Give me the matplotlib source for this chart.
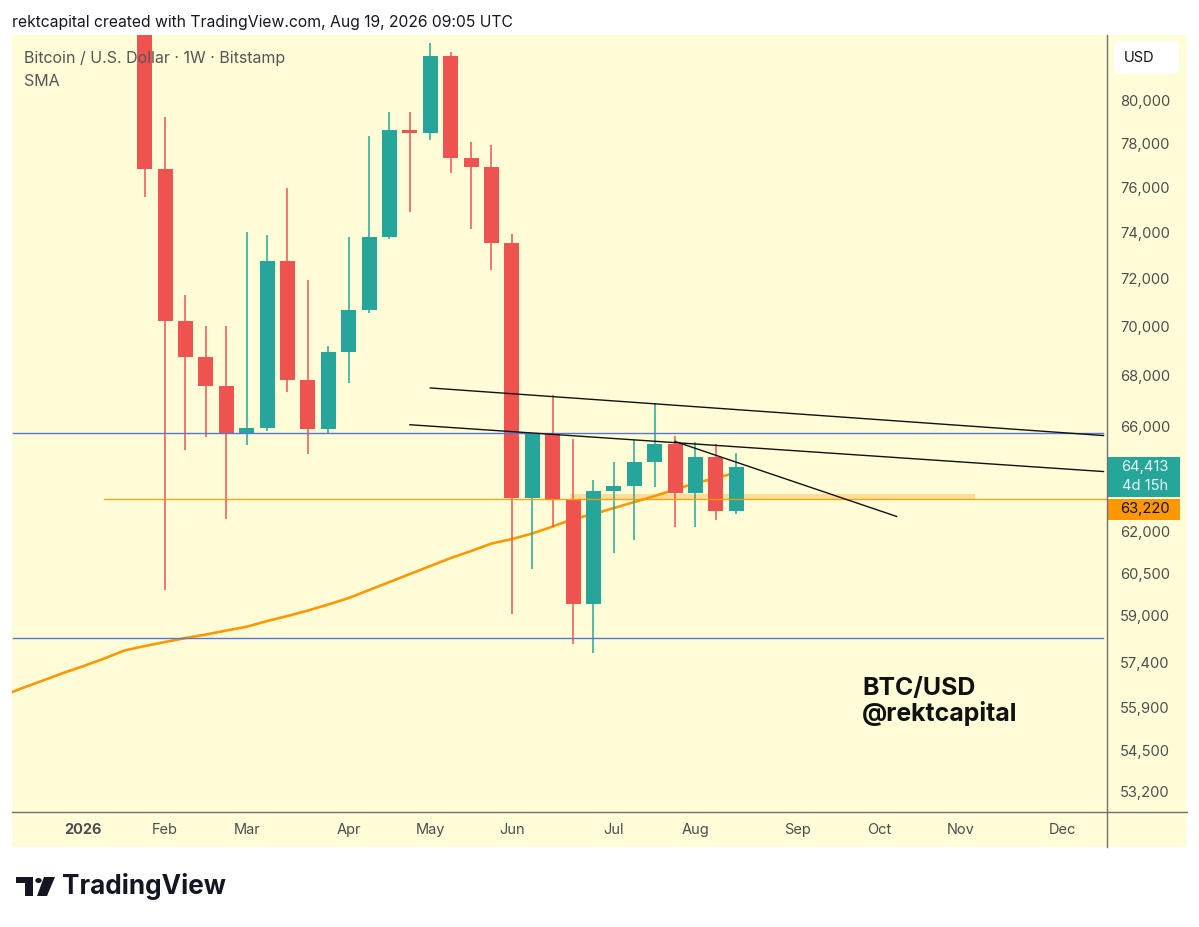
import matplotlib
matplotlib.use('Agg')
import matplotlib.pyplot as plt
import matplotlib.dates as mdates
from matplotlib.patches import Rectangle, FancyBboxPatch, Polygon, Circle
from matplotlib.lines import Line2D
from matplotlib.ticker import NullLocator
import numpy as np

# ---------------- DATA ----------------
week_dates = ['2026-01-26', '2026-02-02', '2026-02-09', '2026-02-16', '2026-02-23',
              '2026-03-02', '2026-03-09', '2026-03-16', '2026-03-23', '2026-03-30',
              '2026-04-06', '2026-04-13', '2026-04-20', '2026-04-27', '2026-05-04',
              '2026-05-11', '2026-05-18', '2026-05-25', '2026-06-01', '2026-06-08',
              '2026-06-15', '2026-06-22', '2026-06-29', '2026-07-06', '2026-07-13',
              '2026-07-20', '2026-07-27', '2026-08-03', '2026-08-10', '2026-08-17']
opens  = [84800, 76820, 70240, 68730, 67570, 65720, 65920, 72770, 67810, 65890,
          68950, 70690, 73780, 78580, 78450, 82090, 77320, 76920, 73520, 63240,
          65720, 63170, 59420, 63530, 63700, 64620, 65290, 63430, 64800, 62780]
highs  = [88500, 79230, 71290, 70020, 70000, 74010, 73870, 75940, 71950, 69180,
          73780, 78320, 79420, 79420, 82720, 82300, 78040, 77910, 73910, 65720,
          67220, 65480, 63930, 64600, 65460, 66890, 65610, 65380, 65290, 64970]
lows   = [75540, 59910, 65060, 65590, 62490, 65250, 65800, 67320, 64930, 65700,
          67700, 70560, 73700, 74890, 78160, 76640, 74130, 72370, 59080, 60670,
          62190, 58030, 57710, 61220, 61700, 63660, 62190, 62190, 62440, 62660]
closes = [76820, 70240, 68730, 67570, 65720, 65920, 72770, 67810, 65890, 68950,
          70690, 73780, 78580, 78450, 82090, 77320, 76920, 73520, 63240, 65720,
          63170, 59420, 63530, 63700, 64620, 65290, 63430, 64800, 62780, 64413]

sma_dates = ['2025-12-08', '2025-12-15', '2025-12-22', '2025-12-29', '2026-01-05',
             '2026-01-12', '2026-01-19'] + week_dates
sma_values = [56276, 56542, 56790, 57045, 57281, 57532, 57808, 57962, 58099, 58236,
              58357, 58495, 58626, 58824, 58998, 59190, 59400, 59628, 59910, 60194,
              60479, 60765, 61053, 61305, 61577, 61741, 61942, 62199, 62474, 62659,
              62881, 63104, 63328, 63571, 63816, 64005, 64213]

# horizontal levels
blue_levels = [65720, 58230]
orange_level = 63220
orange_level_start = '2026-01-12'
zone_dates = ['2026-06-21', '2026-11-07']
zone_prices = [63220, 63420]

# trend lines (start date, start price, end date, end price)
trend_lines = [
    ('2026-05-04', 67500, '2026-12-21', 65630),
    ('2026-04-27', 66050, '2026-12-21', 64250),
    ('2026-07-27', 65400, '2026-10-11', 62570),
]

y_ticks = [53200, 54500, 55900, 57400, 59000, 60500, 62000,
           66000, 68000, 70000, 72000, 74000, 76000, 78000, 80000]
x_tick_dates = ['2026-01-05', '2026-02-02', '2026-03-02', '2026-04-06', '2026-05-04',
                '2026-06-01', '2026-07-06', '2026-08-03', '2026-09-07', '2026-10-05',
                '2026-11-02', '2026-12-07']
x_tick_labels = ['2026', 'Feb', 'Mar', 'Apr', 'May', 'Jun', 'Jul', 'Aug', 'Sep', 'Oct',
                 'Nov', 'Dec']

last_price_label = '64,413'
countdown_label = '4d 15h'
level_label = '63,220'

# ---------------- FIGURE ----------------
W, H = 1199, 927
FONT = ['Inter', 'DejaVu Sans']
plt.rcParams['font.family'] = FONT

fig = plt.figure(figsize=(W / 100, H / 100), dpi=100)
fig.patch.set_facecolor('white')


def fx(px):
    return px / W


def fy(py):
    return 1 - py / H


BG = '#FEFDD8'
GREEN = '#26A69A'
RED = '#EF5350'
ORANGE = '#FF9800'
BLUE = '#5677D4'
TXT = '#4d4d4d'

# yellow panel including the axis strips
fig.add_artist(Rectangle((fx(12.5), fy(847)), fx(1187) - fx(12.5), fy(35) - fy(847),
                         transform=fig.transFigure, facecolor=BG, edgecolor='none', zorder=-10))

ax = fig.add_axes([fx(12.5), fy(812), (1107 - 12.5) / W, (812 - 35) / H])
ax.set_facecolor(BG)
for s in ax.spines.values():
    s.set_visible(False)

def dn(d):
    return mdates.date2num(np.datetime64(d))

xs = np.array([dn(d) for d in week_dates])
x0 = dn('2026-01-26')
ax.set_xlim(x0 - 45.36, x0 + 330.2)
ax.set_yscale('log')
ax.set_ylim(52553, 83135)

# zone
ax.add_patch(Rectangle((dn(zone_dates[0]), zone_prices[0]),
                       dn(zone_dates[1]) - dn(zone_dates[0]), zone_prices[1] - zone_prices[0],
                       facecolor='#FDD98C', edgecolor='none', alpha=0.85, zorder=1))

# SMA
ax.plot([dn(d) for d in sma_dates], sma_values, color=ORANGE, lw=1.9, zorder=2,
        solid_capstyle='round', solid_joinstyle='round')

# candles
body_w = 5.15
for x, o, h, l, c in zip(xs, opens, highs, lows, closes):
    col = GREEN if c >= o else RED
    ax.vlines(x, l, h, color=col, lw=1.1, zorder=3)
    ax.bar(x, abs(c - o), bottom=min(o, c), width=body_w, color=col, zorder=4,
           edgecolor='none', align='center')

# horizontal lines
xl = ax.get_xlim()
for lv in blue_levels:
    ax.plot([xl[0], xl[1] - 1.3], [lv, lv], color=BLUE, lw=1.0, zorder=5)
ax.plot([dn(orange_level_start), xl[1]], [orange_level, orange_level], color=ORANGE,
        lw=1.0, zorder=5, alpha=0.9)

# trend lines
for d1, p1, d2, p2 in trend_lines:
    ax.plot([dn(d1), dn(d2)], [p1, p2], color='#111111', lw=1.0, zorder=6)

ax.set_xlim(xl)

# ticks
ax.yaxis.set_minor_locator(NullLocator())
ax.set_yticks(y_ticks, [f'{v:,}' for v in y_ticks])
ax.yaxis.set_minor_locator(NullLocator())
ax.tick_params(axis='y', which='both', left=False, right=False, labelleft=False,
               labelright=True, length=0, pad=9.5, labelsize=10.6, labelcolor=TXT)
ax.set_xticks([dn(d) for d in x_tick_dates], x_tick_labels)
ax.tick_params(axis='x', which='both', length=0, pad=8, labelsize=10.5, labelcolor=TXT)
for lab in ax.get_xticklabels():
    if lab.get_text() == '2026':
        lab.set_fontweight('bold')

# axis separator lines
fig.add_artist(Line2D([fx(1107), fx(1107)], [fy(35), fy(847)], transform=fig.transFigure,
                      color='#707070', lw=1.0))
fig.add_artist(Line2D([fx(12.5), fx(1187)], [fy(812), fy(812)], transform=fig.transFigure,
                      color='#707070', lw=1.0))

# USD box
fig.add_artist(FancyBboxPatch((fx(1114), fy(74)), fx(1179) - fx(1114), fy(41) - fy(74),
                              boxstyle='round,pad=0,rounding_size=0.006',
                              transform=fig.transFigure, facecolor='white', edgecolor='none'))
fig.text(fx(1139), fy(58), 'USD', ha='center', va='center', fontsize=10.5, color='#111111')

# price labels
fig.add_artist(Rectangle((fx(1108), fy(497)), fx(1180) - fx(1108), fy(457) - fy(497),
                         transform=fig.transFigure, facecolor=GREEN, edgecolor='none'))
fig.text(fx(1145), fy(467), last_price_label, ha='center', va='center', fontsize=10.6,
         color='#E8F6F4')
fig.text(fx(1145), fy(486), countdown_label, ha='center', va='center', fontsize=10.6,
         color='#E8F6F4')
fig.add_artist(Rectangle((fx(1108), fy(520)), fx(1180) - fx(1108), fy(499) - fy(520),
                         transform=fig.transFigure, facecolor=ORANGE, edgecolor='none'))
fig.text(fx(1145), fy(509.5), level_label, ha='center', va='center', fontsize=10.6,
         color='#111111')

# header & legend
fig.text(fx(12), fy(22), 'rektcapital created with TradingView.com, Aug 19, 2026 09:05 UTC',
         ha='left', va='center', fontsize=11.3, color='#131722')
fig.text(fx(24), fy(59), 'Bitcoin / U.S. Dollar · 1W · Bitstamp', ha='left', va='center',
         fontsize=11.5, color='#555555')
fig.text(fx(24), fy(82), 'SMA', ha='left', va='center', fontsize=11.5, color='#555555')

# watermark text
fig.text(fx(862), fy(688), 'BTC/USD', ha='left', va='center', fontsize=17.9,
         fontweight='bold', color='#111111')
fig.text(fx(862), fy(714), '@rektcapital', ha='left', va='center', fontsize=17.9,
         fontweight='bold', color='#111111')

# TradingView logo
def P(x, y):
    return (fx(x), fy(y))

fig.add_artist(Polygon([P(16, 877), P(33, 877), P(33, 896), P(25, 896), P(25, 883), P(16, 883)],
                       closed=True, transform=fig.transFigure, facecolor='#131722',
                       edgecolor='none'))
fig.add_artist(Circle(P(38.5, 880.5), 3.2 / W, transform=fig.transFigure,
                      facecolor='#131722', edgecolor='none'))
fig.add_artist(Polygon([P(44, 877), P(55, 877), P(47, 896), P(37, 896)], closed=True,
                       transform=fig.transFigure, facecolor='#131722', edgecolor='none'))
fig.text(fx(62), fy(887), 'TradingView', ha='left', va='center', fontsize=18.8,
         fontweight='bold', color='#131722')

fig.savefig('out.png', dpi=100, facecolor='white')
